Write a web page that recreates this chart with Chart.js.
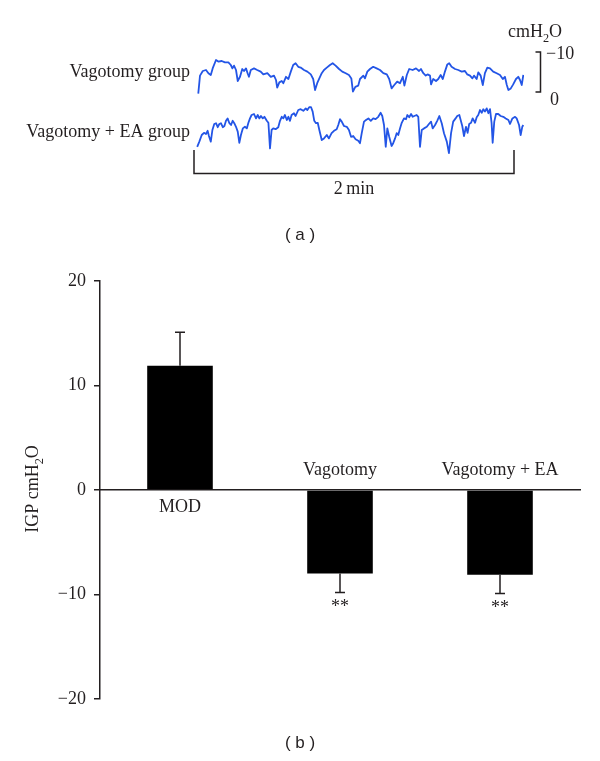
<!DOCTYPE html>
<html>
<head>
<meta charset="utf-8">
<script src="https://cdn.jsdelivr.net/npm/chart.js@4.4.1/dist/chart.umd.min.js"></script>
<style>
  body { margin: 0; background: #fff; }
  #wrap { position: relative; width: 600px; height: 761px; }
  canvas { position: absolute; left: 0; top: 0; }
</style>
</head>
<body>
<div id="wrap">
  <canvas id="igpBar" width="600" height="761"></canvas>
  <canvas id="traces" width="600" height="250"></canvas>
</div>
<script>
// (a) raw pressure traces, seconds / cmH2O (negative = upward deflection)
const traceTimeA = [1.6,2.25,3.3,4.5,5.4,6.3,7.0,8.25,9.1,10.4,11.6,12.9,13.8,14.4,15.0,15.75,16.4,17.25,18.1,18.75,
  19.5,20.1,20.6,21.3,22.5,23.7,25.0,26.0,27.5,28.8,30.0,30.75,31.2,32.0,32.9,33.5,34.5,35.4,36.3,37.2,
  38.1,39.1,40.0,41.25,42.5,43.8,44.7,45.4,46.2,47.0,47.9,48.75,49.8,51.0,52.0,53.1,54.4,55.6,56.9,58.1,
  59.0,59.6,60.5,61.6,62.25,63.5,64.1,65.0,66.0,67.2,68.5,69.75,71.0,72.3,73.2,74.1,75.1,76.2,77.25,78.3,
  78.9,79.8,80.7,82.0,83.25,84.4,85.1,86.0,86.9,87.6,88.5,88.9,89.7,90.75,91.6,92.5,93.3,94.1,95.0,95.7,
  96.6,97.9,99.1,100.4,101.6,102.5,103.5,104.4,105.0,106.0,106.6,107.5,108.3,109.1,110.0,111.0,112.2,113.5,114.75,115.8,
  116.6,117.3,117.9,118.8,119.7,120.75,121.6,122.25,122.9,123.5];
const tracePressA = [0.4,-4.1,-5.25,-5.5,-4.7,-4.25,-5.9,-8,-7.6,-7.75,-7.4,-7.4,-6.75,-5.9,-6.6,-5.5,-2.75,-3.8,-5.75,-5.25,
  -5.9,-4.7,-3.8,-5.5,-5.9,-5.5,-5.1,-4.4,-4.7,-3.8,-4.1,-3,-1.1,-2.4,-2.75,-2.2,-3.8,-3.25,-5.1,-6.75,
  -7.2,-6.3,-6.1,-5.5,-5.1,-4.4,-3.25,-0.5,-2.2,-3.4,-4.7,-5.5,-6.1,-6.75,-7.2,-6.6,-5.75,-5.1,-4.7,-4.25,
  -3.4,-0.1,-1.3,-1.6,-3.25,-4.1,-3.4,-5.1,-5.75,-6.3,-5.9,-5.5,-4.7,-4.4,-3.25,-0.9,-1.75,-2.6,-2.2,-3.8,
  -1.6,-4.25,-5.75,-5.5,-5.9,-5.25,-5.75,-4.7,-4.1,-4.4,-4.1,-1.9,-3.25,-2.75,-3.25,-4.25,-3.25,-5.1,-6.9,-7.2,
  -6.3,-5.75,-5.5,-5.1,-5.25,-4.4,-4.1,-3.4,-4.1,-3.25,-4.9,-4.1,-1.75,-4.7,-6.1,-5.9,-5.1,-4.7,-4.25,-3.25,
  -3.8,-1.75,-0.5,-0.9,-1.9,-3.25,-3.8,-3,-1.75,-4.25];
const traceTimeB = [1.2,2.0,2.9,3.75,4.5,5.1,5.6,6.3,6.9,7.6,8.25,8.9,9.5,10.1,10.8,11.4,12.0,12.6,13.2,13.9,
  14.5,15.1,15.75,16.4,17.0,17.6,18.3,19.1,19.8,20.4,21.0,21.6,22.5,23.25,23.9,24.5,25.1,25.8,26.4,27.3,
  27.9,28.5,29.1,29.7,30.6,31.6,32.25,32.9,33.5,34.1,34.8,35.4,36.0,36.6,37.5,38.1,39.1,40.0,41.0,41.9,
  42.5,43.2,43.9,44.5,45.1,45.75,46.4,47.0,47.9,48.75,49.8,50.6,51.6,52.5,53.5,54.1,54.75,55.4,56.25,57.3,
  58.1,58.9,59.7,60.6,61.6,62.25,62.9,63.75,64.5,65.4,66.3,67.2,68.1,69.1,70.0,70.6,71.25,71.9,72.5,73.2,
  74.1,74.7,75.4,76.0,76.6,77.25,77.9,78.75,79.5,80.0,80.7,81.4,82.0,82.6,83.5,84.1,84.75,85.4,86.25,87.3,
  88.1,88.9,89.5,90.4,91.2,92.0,92.9,93.75,94.8,95.6,96.4,97.2,98.1,98.7,99.5,100.0,100.6,101.25,102.0,102.6,
  103.2,103.9,104.5,105.4,106.0,106.6,107.25,107.9,108.5,109.1,109.75,110.4,111.0,111.6,112.0,112.6,113.25,114.1,115.0,116.0,
  116.9,117.9,118.5,119.4,120.4,121.0,121.9,122.5,123.1,123.5];
const tracePressB = [-1.3,-2.6,-4.25,-4.8,-4.5,-5.3,-4,-2.6,-5.5,-7,-7.2,-6.2,-7,-7.2,-6.2,-6.5,-7.8,-8.4,-7.3,-6.75,
  -7.8,-7.2,-6.3,-5.1,-2.3,-4.25,-5.9,-6.3,-5.9,-7.3,-8.4,-9.25,-9.5,-8.4,-9.25,-8.4,-9,-8.4,-8.8,-7.8,
  -7.3,-0.9,-5.5,-5.9,-5.7,-6.2,-7.8,-8.8,-8.4,-9.25,-8,-8.8,-7.8,-9.25,-9.7,-9,-10.5,-10.7,-10.3,-10.9,
  -10.5,-11.2,-11.2,-10.1,-7.8,-7.2,-7.3,-5.5,-3,-3.4,-4.25,-3.4,-4.7,-5.3,-5.7,-6.75,-8.2,-7.6,-6.5,-6.3,
  -5.5,-3.8,-4,-3.2,-2.8,-2.2,-4.7,-7.6,-8,-8.4,-7.8,-8.4,-8.2,-8.8,-9.8,-9,-6.75,-1.3,-5.9,-3.8,
  -1.5,-2.2,-3.4,-4.7,-4.25,-5.9,-7.3,-8.4,-8.2,-9.25,-8.7,-9.5,-8.8,-9,-9.25,-8.8,-1.3,-5.5,-5.9,-6.3,
  -7,-7.6,-5.9,-6.75,-7.8,-9,-7.2,-4.7,-2.6,0.3,-4.7,-7.6,-8.4,-9,-9.25,-8,-6.5,-4,-6.3,-4.8,
  -7,-7.3,-8.4,-7.3,-8.7,-9.25,-10.5,-9.8,-10.7,-10.1,-10.9,-9.7,-10.7,-7.2,-2.3,-7.6,-9.5,-9.5,-9,-8.8,
  -8.4,-8,-7,-8.4,-8.8,-8.4,-6.75,-4.25,-6.3,-6.75];
const traceNames = ['Vagotomy group', 'Vagotomy + EA group'];
const scaleBarTicks = [-10, 0];
const windowSeconds = 120;

// (b) IGP bars
const groups = ['MOD', 'Vagotomy', 'Vagotomy + EA'];
const igpMean = [11.9, -8.0, -8.1];
const igpSem = [3.2, 1.8, 1.8];
const sigMarks = ['', '**', '**'];
const yTicks = [-20, -10, 0, 10, 20];

const SERIF = "'Liberation Serif', 'DejaVu Serif', serif";
const INK = '#231f20';
const BLUE = '#2355e6';

Chart.defaults.font.family = SERIF;
Chart.defaults.color = INK;

function richText(ctx, parts, x, y, size, align) {
  const f = p => (p.sub ? size * 0.68 : size) + 'px ' + SERIF;
  let w = 0;
  parts.forEach(p => { ctx.font = f(p); w += ctx.measureText(p.t).width; });
  let cx = align === 'center' ? x - w / 2 : x;
  ctx.textAlign = 'left';
  ctx.textBaseline = 'alphabetic';
  parts.forEach(p => {
    ctx.font = f(p);
    ctx.fillText(p.t, cx, y + (p.sub ? size * 0.28 : 0));
    cx += ctx.measureText(p.t).width;
  });
}

const unitParts = [{ t: 'cmH' }, { t: '2', sub: true }, { t: 'O' }];
const fmtTick = v => (v < 0 ? '\u2212' + Math.abs(v) : String(v));

// --- panel (a) ---
const traceDecor = {
  id: 'traceDecor',
  afterDraw(chart) {
    const ctx = chart.ctx;
    const xs = chart.scales.x, y1 = chart.scales.y1;
    ctx.save();
    ctx.fillStyle = INK;
    ctx.strokeStyle = INK;
    ctx.lineWidth = 1.5;

    ctx.font = '18px ' + SERIF;
    ctx.textAlign = 'right';
    ctx.textBaseline = 'alphabetic';
    ctx.fillText(traceNames[0], 190, 77);
    ctx.fillText(traceNames[1], 190, 137);

    // pressure scale bar
    const yTop = y1.getPixelForValue(scaleBarTicks[0]);
    const yBot = y1.getPixelForValue(scaleBarTicks[1]);
    ctx.beginPath();
    ctx.moveTo(535.5, yTop); ctx.lineTo(540.5, yTop);
    ctx.lineTo(540.5, yBot); ctx.lineTo(535.5, yBot);
    ctx.stroke();
    ctx.font = '18px ' + SERIF;
    ctx.textAlign = 'left';
    ctx.fillText(fmtTick(scaleBarTicks[0]), 546, yTop + 7);
    ctx.fillText(fmtTick(scaleBarTicks[1]), 550, yBot + 13);
    richText(ctx, unitParts, 508, 37, 18, 'left');

    // time bracket
    const x0 = xs.getPixelForValue(0), x1 = xs.getPixelForValue(windowSeconds);
    ctx.beginPath();
    ctx.moveTo(x0, 150); ctx.lineTo(x0, 173.5);
    ctx.lineTo(x1, 173.5); ctx.lineTo(x1, 150);
    ctx.stroke();
    ctx.font = '18px ' + SERIF;
    ctx.textAlign = 'center';
    ctx.fillText('2\u2009min', (x0 + x1) / 2, 194);

    ctx.font = "17px 'Liberation Sans', 'DejaVu Sans', sans-serif";
    ctx.textBaseline = 'middle';
    ctx.fillText('( a )', 300, 235);
    ctx.restore();
  }
};

new Chart(document.getElementById('traces'), {
  type: 'line',
  data: {
    datasets: [
      { data: traceTimeA.map((t, i) => ({ x: t, y: tracePressA[i] })), yAxisID: 'y1' },
      { data: traceTimeB.map((t, i) => ({ x: t, y: tracePressB[i] })), yAxisID: 'y2' }
    ]
  },
  options: {
    responsive: false,
    animation: false,
    layout: { padding: { left: 194, right: 76, top: 40, bottom: 90 } },
    elements: {
      line: { borderColor: BLUE, borderWidth: 1.8, tension: 0, borderJoinStyle: 'round' },
      point: { radius: 0 }
    },
    plugins: { legend: { display: false }, tooltip: { enabled: false } },
    scales: {
      x: { type: 'linear', min: 0, max: 123.75, display: false },
      y1: { reverse: true, min: -13, max: 17, display: false },
      y2: { reverse: true, min: -28, max: 2, display: false }
    }
  },
  plugins: [traceDecor]
});

// --- panel (b) ---
const barDecor = {
  id: 'barDecor',
  afterDatasetsDraw(chart) {
    const ctx = chart.ctx;
    const ys = chart.scales.y;
    const y0 = ys.getPixelForValue(0);
    const meta = chart.getDatasetMeta(0);
    ctx.save();
    ctx.strokeStyle = INK;
    ctx.fillStyle = INK;
    ctx.lineWidth = 1.5;
    meta.data.forEach((bar, i) => {
      const m = igpMean[i], e = igpSem[i];
      const yBar = ys.getPixelForValue(m);
      const yEnd = ys.getPixelForValue(m >= 0 ? m + e : m - e);
      ctx.beginPath();
      ctx.moveTo(bar.x, yBar); ctx.lineTo(bar.x, yEnd);
      ctx.moveTo(bar.x - 5, yEnd); ctx.lineTo(bar.x + 5, yEnd);
      ctx.stroke();

      ctx.font = '18px ' + SERIF;
      ctx.textAlign = 'center';
      ctx.textBaseline = 'middle';
      ctx.fillText(groups[i], bar.x, m >= 0 ? y0 + 17 : y0 - 20);
      if (sigMarks[i]) {
        ctx.textBaseline = 'top';
        ctx.fillText(sigMarks[i], bar.x, yEnd + 6);
      }
    });

    ctx.save();
    ctx.translate(38, 489);
    ctx.rotate(-Math.PI / 2);
    richText(ctx, [{ t: 'IGP ' }].concat(unitParts), 0, 0, 18, 'center');
    ctx.restore();

    ctx.font = "17px 'Liberation Sans', 'DejaVu Sans', sans-serif";
    ctx.textAlign = 'center';
    ctx.textBaseline = 'middle';
    ctx.fillText('( b )', 300, 743);
    ctx.restore();
  }
};

new Chart(document.getElementById('igpBar'), {
  type: 'bar',
  data: {
    labels: groups,
    datasets: [{
      data: igpMean,
      backgroundColor: '#000',
      barPercentage: 0.41,
      categoryPercentage: 1
    }]
  },
  options: {
    responsive: false,
    animation: false,
    layout: { padding: { left: 40, right: 20, top: 281, bottom: 62 } },
    plugins: { legend: { display: false }, tooltip: { enabled: false } },
    scales: {
      x: {
        position: { y: 0 },
        grid: { display: false, drawTicks: false },
        border: { display: true, color: INK, width: 1.5 },
        ticks: { display: false },
        afterFit: s => { s.height = 0; }
      },
      y: {
        min: yTicks[0],
        max: yTicks[yTicks.length - 1],
        afterBuildTicks: s => { s.ticks = yTicks.map(v => ({ value: v })); },
        ticks: { callback: v => fmtTick(v), font: { size: 18 }, color: INK, padding: 8 },
        grid: { drawOnChartArea: false, drawTicks: true, tickLength: 6, color: INK, lineWidth: 1.5 },
        border: { display: true, color: INK, width: 1.5 },
        afterFit: s => { s.width = 60; }
      }
    }
  },
  plugins: [barDecor]
});
</script>
</body>
</html>
